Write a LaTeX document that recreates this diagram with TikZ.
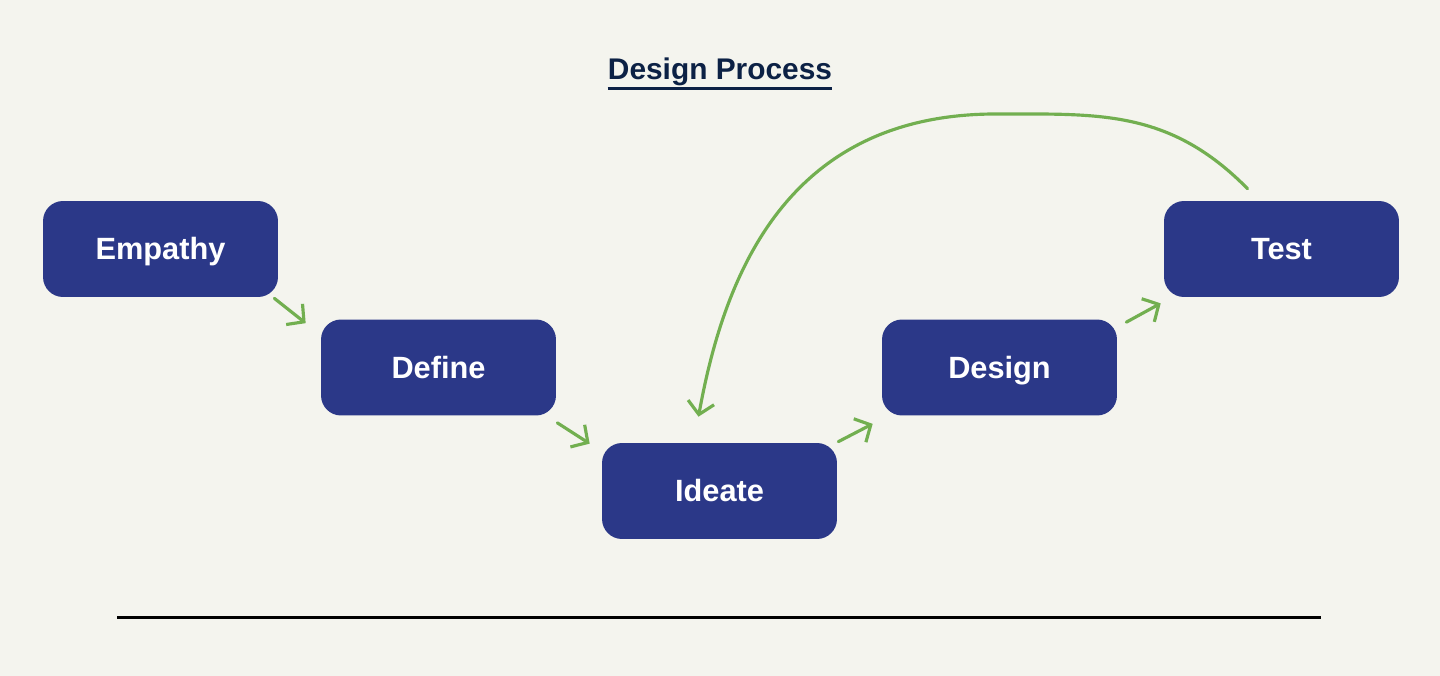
\documentclass[tikz,border=0pt]{standalone}
\usepackage{fontspec}
\setmainfont{Liberation Sans}
\usetikzlibrary{positioning}
\usetikzlibrary{calc}
\usetikzlibrary{arrows.meta}
\definecolor{paper}{RGB}{244,244,238}
\definecolor{boxblue}{RGB}{43,56,136}
\definecolor{leaf}{RGB}{114,175,80}
\definecolor{navy}{RGB}{12,33,69}
\tikzset{
  phase/.style={fill=boxblue,text=white,rounded corners=0.4cm,minimum width=4.7cm,minimum height=1.92cm,
    text height=12.5pt,text depth=0pt,font=\bfseries\fontsize{17.5}{20}\selectfont},
  flow/.style={-{Straight Barb[length=7pt,width=15pt]},leaf,line width=1.8pt,line cap=round}
}
\begin{document}
\begin{tikzpicture}[x=0.02cm,y=-0.02cm]
	\fill[paper] (0,0) rectangle (1440,676);
	\useasboundingbox (0,0) rectangle (1440,676);

	\foreach \n/\txt/\x/\y in {empathy/Empathy/160.5/249,define/Define/438.5/367.5,ideate/Ideate/719.5/491,design/Design/999.5/367.5,test/Test/1281.5/249}
		\node[phase] (\n) at (\x,\y) {\txt};

	% connectors between phases
	\draw[flow] ($(empathy.south east)+(-4,1)$) -- ($(define.north west)+(-15,4)$);
	\draw[flow] ($(define.south east)+(1,7)$) -- ($(ideate.north west)+(-12,1)$);
	\draw[flow] ($(ideate.north east)+(1,-1)$) -- ($(design.south west)+(-9,8)$);
	\draw[flow] ($(design.north east)+(9,3)$) -- ($(test.south west)+(-3,6)$);

	% loop back test -> ideate
	\draw[flow] ($(test.north)+(-34,-12)$) .. controls (1170,110) and (1100,114) .. (1000,114)
		.. controls (790,112) and (725,270) .. ($(ideate.north)+(-21,-26)$);

	% title and rule
	\node[navy,anchor=base,inner sep=0pt,font=\bfseries\fontsize{17}{20}\selectfont] (title) at (720,79) {Design Process};
	\draw[navy,line width=1.7pt] ($(title.south west)+(0,3)$) -- ($(title.south east)+(0,3)$);
	\coordinate (ruleL) at (117,617);
	\coordinate (ruleR) at (1321,617);
	\draw[black,line width=1.7pt] (ruleL) -- (ruleR);
\end{tikzpicture}
\end{document}
